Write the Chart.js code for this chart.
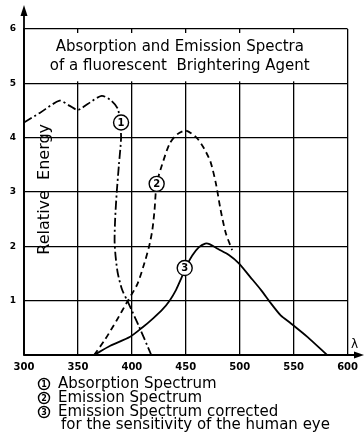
<!DOCTYPE html>
<html>
<head>
<meta charset="utf-8">
<script src="https://cdn.jsdelivr.net/npm/chart.js@4.4.0/dist/chart.umd.min.js"></script>
<style>
  html, body { margin: 0; padding: 0; background: #fff; }
  #wrap { width: 364px; height: 444px; }
</style>
</head>
<body>
<div id="wrap"><canvas id="mycanvas" width="364" height="444"></canvas></div>
<script>
// values (wavelength nm, relative energy)
var absX = [300, 315, 333, 342, 350, 359, 372, 381, 387, 389, 390, 388, 386, 384.5, 384, 385, 387, 391, 396, 407, 418];
var absY = [4.28, 4.46, 4.68, 4.59, 4.51, 4.62, 4.77, 4.68, 4.53, 4.3, 4.0, 3.5, 3.0, 2.5, 2.1, 1.8, 1.5, 1.2, 0.99, 0.51, 0];

var emiX = [365, 375, 386, 396, 405, 411, 416, 419, 421, 423, 428, 435, 442, 450, 460, 467, 473, 478, 482, 487, 493];
var emiY = [0, 0.28, 0.64, 0.99, 1.3, 1.65, 2.0, 2.3, 2.66, 3.15, 3.5, 3.89, 4.06, 4.13, 4.0, 3.8, 3.55, 3.15, 2.7, 2.25, 1.93];

var corX = [365, 380, 398, 410, 420, 428, 435, 441, 446, 451, 456, 462, 468, 472, 480, 490, 499, 510, 520, 529, 538, 547, 563, 581];
var corY = [0, 0.17, 0.33, 0.51, 0.68, 0.83, 1.0, 1.2, 1.42, 1.65, 1.83, 1.98, 2.05, 2.04, 1.95, 1.84, 1.69, 1.43, 1.19, 0.95, 0.73, 0.59, 0.33, 0];

// circled curve numbers
var markNum = ['1', '2', '3'];
var markX = [390, 423, 449];
var markY = [4.28, 3.15, 1.6];

var xTicks = [300, 350, 400, 450, 500, 550, 600];
var yTicks = [1, 2, 3, 4, 5, 6];

var titleLines = ['Absorption and Emission Spectra', 'of a fluorescent  Brightering Agent'];
var yTitle = 'Relative  Energy';
var legendLines = ['Absorption Spectrum', 'Emission Spectrum', 'Emission Spectrum corrected', 'for the sensitivity of the human eye'];

function pts(xs, ys) {
  var out = [];
  for (var i in xs) {
    out.push({x: xs[i], y: ys[i]});
  }
  return out;
}

function circled(ctx, n, x, y, r, size) {
  ctx.save();
  ctx.fillStyle = '#fff';
  ctx.strokeStyle = '#000';
  ctx.lineWidth = 1.4;
  ctx.beginPath();
  ctx.arc(x, y, r, 0, Math.PI * 2);
  ctx.fill();
  ctx.stroke();
  ctx.fillStyle = '#000';
  ctx.font = 'bold ' + size + 'px "DejaVu Sans"';
  ctx.textAlign = 'center';
  ctx.textBaseline = 'middle';
  ctx.fillText(n, x, y + 0.5);
  ctx.restore();
}

var paper = {
  id: 'paper',
  beforeDatasetsDraw: function(chart) {
    var ctx = chart.ctx;
    var a = chart.chartArea;
    var ys = chart.scales.y;
    var top = ys.getPixelForValue(6);
    var five = ys.getPixelForValue(5);
    // title box, no grid inside
    ctx.save();
    ctx.fillStyle = '#fff';
    ctx.fillRect(a.left + 1, top + 4, a.right - a.left - 2, five - top - 6);
    ctx.fillStyle = '#000';
    ctx.font = '15px "DejaVu Sans"';
    ctx.textAlign = 'center';
    ctx.textBaseline = 'middle';
    var cx = (a.left + a.right) / 2 - 6;
    ctx.fillText(titleLines[0], cx, top + 18);
    ctx.fillText(titleLines[1], cx, top + 37);
    // y title
    ctx.translate(a.left + 21, ys.getPixelForValue(3.05));
    ctx.rotate(-Math.PI / 2);
    ctx.font = '16px "DejaVu Sans"';
    ctx.fillText(yTitle, 0, 0);
    ctx.restore();
  },
  afterDraw: function(chart) {
    var ctx = chart.ctx;
    var a = chart.chartArea;
    var xs = chart.scales.x;
    var ys = chart.scales.y;
    ctx.save();
    ctx.strokeStyle = '#000';
    ctx.fillStyle = '#000';
    ctx.lineWidth = 1.8;
    // y axis arrow
    ctx.beginPath();
    ctx.moveTo(a.left, a.bottom);
    ctx.lineTo(a.left, 12);
    ctx.stroke();
    ctx.beginPath();
    ctx.moveTo(a.left, 5);
    ctx.lineTo(a.left - 3.5, 16);
    ctx.lineTo(a.left + 3.5, 16);
    ctx.closePath();
    ctx.fill();
    // x axis arrow
    ctx.beginPath();
    ctx.moveTo(a.left, a.bottom);
    ctx.lineTo(358, a.bottom);
    ctx.stroke();
    ctx.beginPath();
    ctx.moveTo(364, a.bottom);
    ctx.lineTo(354, a.bottom - 3.5);
    ctx.lineTo(354, a.bottom + 3.5);
    ctx.closePath();
    ctx.fill();
    ctx.font = '12px "DejaVu Sans"';
    ctx.textAlign = 'center';
    ctx.textBaseline = 'middle';
    ctx.fillText('\u03bb', a.right + 7, a.bottom - 10);

    for (var i in markNum) {
      circled(ctx, markNum[i], xs.getPixelForValue(markX[i]), ys.getPixelForValue(markY[i]), 7.5, 10);
    }

    // legend under the chart
    var lx = 44;
    var ly = [384, 398, 412, 425];
    ctx.font = '15px "DejaVu Sans"';
    ctx.textAlign = 'left';
    for (var j = 0; j < legendLines.length; j++) {
      if (j < 3) {
        circled(ctx, String(j + 1), lx, ly[j], 5.5, 8);
        ctx.fillStyle = '#000';
        ctx.fillText(legendLines[j], lx + 14, ly[j]);
      } else {
        ctx.fillText(legendLines[j], lx + 17, ly[j]);
      }
    }
    ctx.restore();
  }
};

var chartdata = {
  datasets: [
    {
      label: 'Absorption Spectrum',
      data: pts(absX, absY),
      borderColor: '#000',
      borderWidth: 1.8,
      borderDash: [9, 3, 2, 3],
      tension: 0.25
    },
    {
      label: 'Emission Spectrum',
      data: pts(emiX, emiY),
      borderColor: '#000',
      borderWidth: 1.8,
      borderDash: [6, 4],
      tension: 0.25
    },
    {
      label: 'Emission Spectrum corrected',
      data: pts(corX, corY),
      borderColor: '#000',
      borderWidth: 1.8,
      tension: 0.25
    }
  ]
};

var ctx = document.getElementById('mycanvas');
var graph = new Chart(ctx, {
  type: 'scatter',
  data: chartdata,
  plugins: [paper],
  options: {
    responsive: false,
    animation: false,
    showLine: true,
    elements: { point: { radius: 0, hoverRadius: 0 } },
    layout: { padding: { top: 29, right: 16, left: 0, bottom: 0 } },
    plugins: { legend: { display: false }, tooltip: { enabled: false } },
    scales: {
      x: {
        type: 'linear',
        min: 300,
        max: 600,
        afterBuildTicks: function(s) { s.ticks = xTicks.map(function(v) { return {value: v}; }); },
        afterFit: function(s) { s.height = 89; },
        ticks: { color: '#000', padding: 6, font: { family: 'DejaVu Sans', size: 10, weight: 'bold' }, maxRotation: 0 },
        grid: { color: '#000', lineWidth: 1.3, drawTicks: false },
        border: { color: '#000', width: 1.8 }
      },
      y: {
        min: 0,
        max: 6,
        afterBuildTicks: function(s) { s.ticks = yTicks.map(function(v) { return {value: v}; }); },
        afterFit: function(s) { s.width = 24; },
        ticks: { color: '#000', padding: 8, font: { family: 'DejaVu Sans', size: 9, weight: 'bold' } },
        grid: { color: '#000', lineWidth: 1.3, drawTicks: false },
        border: { color: '#000', width: 1.8 }
      }
    }
  }
});
</script>
</body>
</html>
